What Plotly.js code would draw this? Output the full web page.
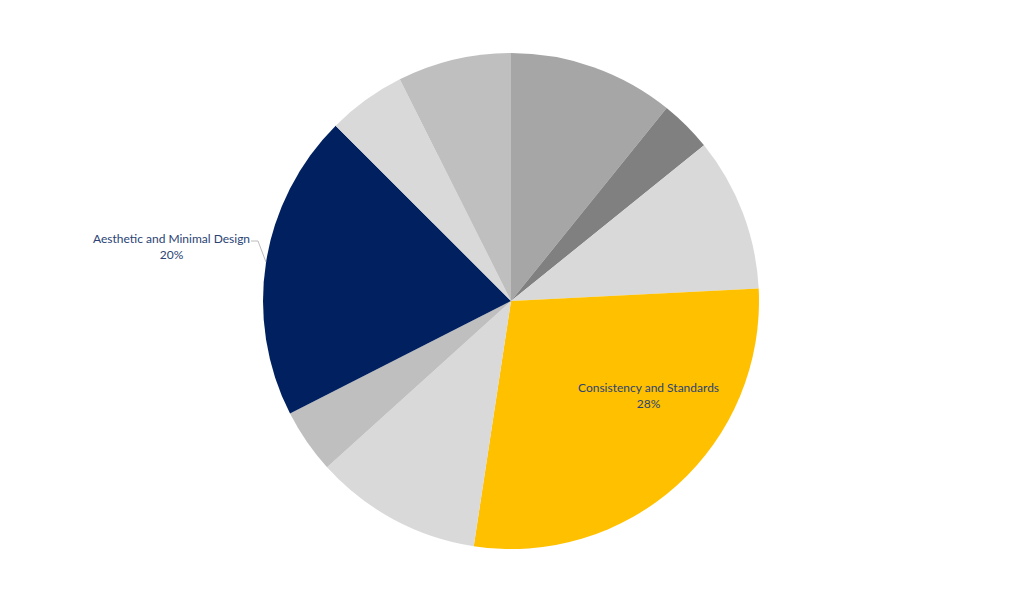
<!DOCTYPE html>
<html>
<head>
<meta charset="utf-8">
<script src="https://cdn.plot.ly/plotly-3.0.1.min.js"></script>
<style>html,body{margin:0;padding:0;background:#fff;}#chart{width:1024px;height:603px;}</style>
</head>
<body>
<div id="chart"></div>
<script>
const categories = [
  "Visibility of System Status",
  "Match Between System and the Real World",
  "User Control and Freedom",
  "Consistency and Standards",
  "Error Prevention",
  "Recognition Rather Than Recall",
  "Aesthetic and Minimal Design",
  "Help Users Recognize, Diagnose, and Recover from Errors",
  "Help and Documentation"
];
const shares = [10.8, 3.4, 10.0, 28.2, 10.9, 4.2, 20.0, 5.1, 7.4];
const sliceColors = ["#a6a6a6", "#808080", "#d9d9d9", "#ffc000", "#d9d9d9", "#bfbfbf", "#002060", "#d9d9d9", "#bfbfbf"];
const labelledSlices = [3, 6];
const percentLabels = ["28%", "20%"];

const W = 1024, H = 603;
const M = { l: 0, r: 2, t: 53, b: 54 };
const plotW = W - M.l - M.r, plotH = H - M.t - M.b;
const R = Math.min(plotW, plotH) / 2;
const total = shares.reduce((a, b) => a + b, 0);

// mid-angle (degrees clockwise from 12 o'clock) of a slice, from the data
function midAngle(i) {
  let before = 0;
  for (let k = 0; k < i; k++) before += shares[k];
  return (before + shares[i] / 2) / total * 360;
}
// pixel offset (relative to pie centre) -> paper coords
function toPaper(dx, dy) {
  return { x: 0.5 + dx / plotW, y: 0.5 - dy / plotH };
}

const txtFont = { family: "Lato, Open Sans, sans-serif", size: 12, color: "#2a4374" };

// inside label for Consistency and Standards
const pIn = toPaper(138, 94);
// outside label for Aesthetic and Minimal Design, with a leader line to the slice edge
const a6 = midAngle(6) * Math.PI / 180;
const edge = toPaper(R * Math.sin(a6), -R * Math.cos(a6));
const pOut = toPaper(-340, -55);
const lineStart = toPaper(-260, -60);
const lineKnee = toPaper(-253, -60);

const trace = {
  type: "pie",
  labels: categories,
  values: shares,
  sort: false,
  direction: "clockwise",
  rotation: 0,
  marker: { colors: sliceColors, line: { width: 0 } },
  textinfo: "none",
  hoverinfo: "label+percent",
  showlegend: false
};

const layout = {
  width: W,
  height: H,
  margin: M,
  paper_bgcolor: "#ffffff",
  showlegend: false,
  annotations: [
    { xref: "paper", yref: "paper", x: pIn.x, y: pIn.y, xanchor: "center", yanchor: "middle",
      text: categories[labelledSlices[0]] + "<br>" + percentLabels[0], showarrow: false, font: txtFont, align: "center" },
    { xref: "paper", yref: "paper", x: pOut.x, y: pOut.y, xanchor: "center", yanchor: "middle",
      text: categories[labelledSlices[1]] + "<br>" + percentLabels[1], showarrow: false, font: txtFont, align: "center" }
  ],
  shapes: [
    { type: "path", xref: "paper", yref: "paper",
      path: "M " + lineStart.x + " " + lineStart.y + " L " + lineKnee.x + " " + lineKnee.y + " L " + edge.x + " " + edge.y,
      line: { color: "#a6a6a6", width: 0.75 } }
  ]
};

Plotly.newPlot("chart", [trace], layout, { displayModeBar: false, staticPlot: true });
</script>
</body>
</html>
